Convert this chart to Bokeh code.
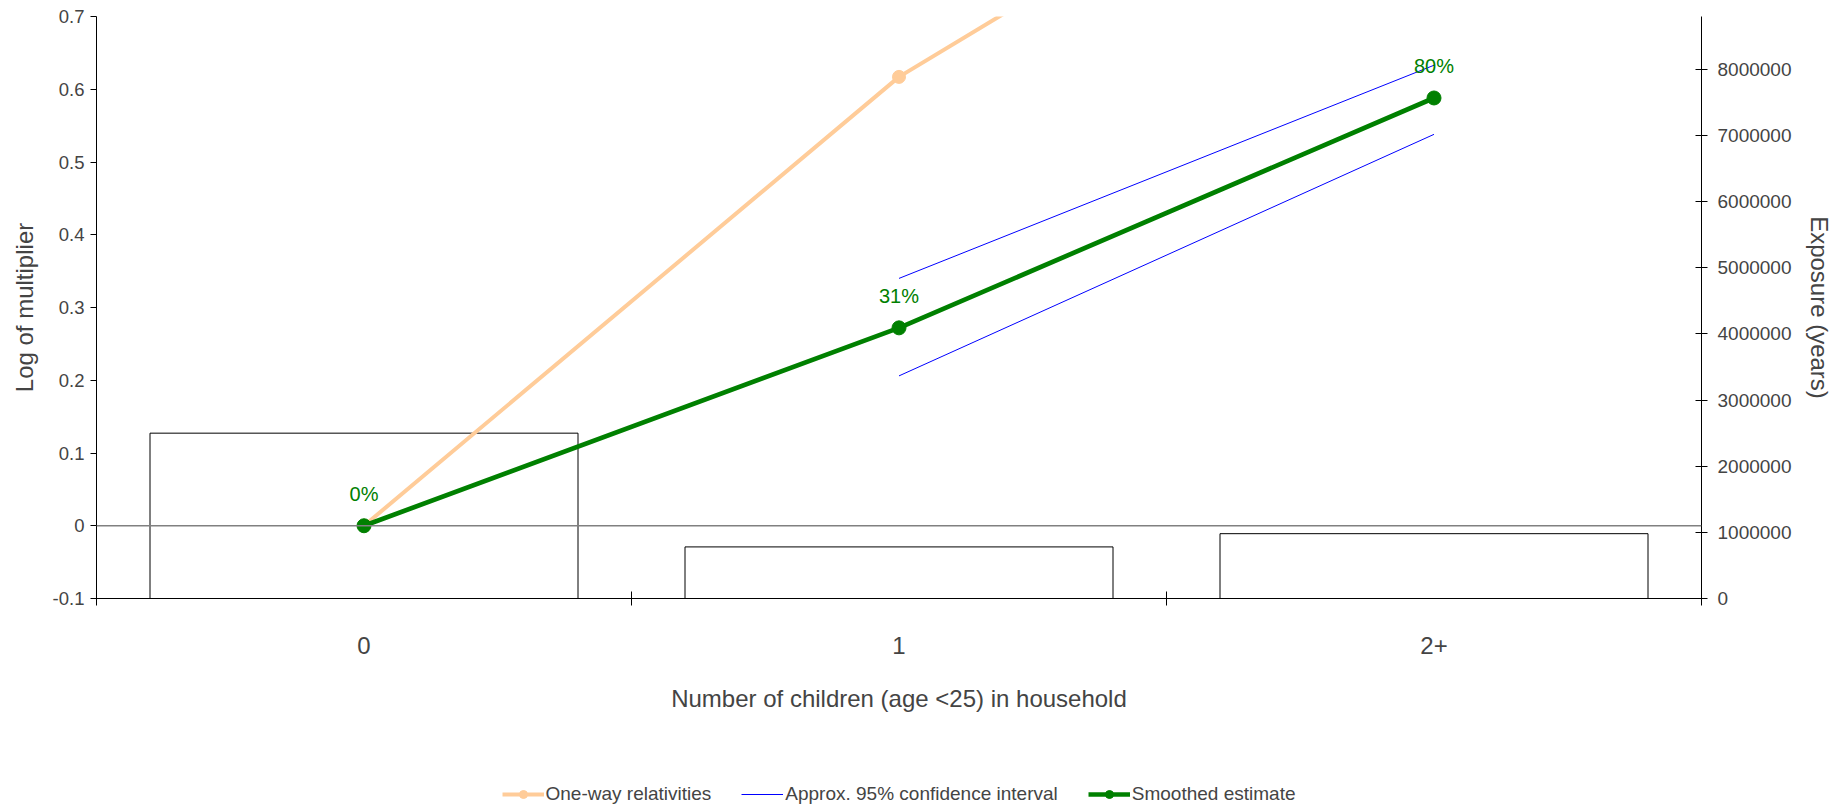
import math
from bokeh.plotting import figure
from bokeh.layouts import column
from bokeh.models import (Range1d, LinearAxis, FixedTicker, CustomJSTickFormatter,
                          Span, Legend, LegendItem, ColumnDataSource)
from bokeh.core.properties import value
from bokeh.embed import file_html
from bokeh.resources import INLINE

# ---- data ----
categories = ["0", "1", "2+"]
exposure = [2500000, 780000, 980000]
one_way = [0.0, 0.617, 1.06]
ci_upper = [None, 0.340, 0.633]
ci_lower = [None, 0.206, 0.538]
smoothed = [0.0, 0.272, 0.588]
smoothed_labels = ["0%", "31%", "80%"]
left_ticks = [-0.1, 0.0, 0.1, 0.2, 0.3, 0.4, 0.5, 0.6, 0.7]
right_ticks = [0, 1000000, 2000000, 3000000, 4000000, 5000000, 6000000, 7000000, 8000000]
legend_labels = ["One-way relativities", "Approx. 95% confidence interval", "Smoothed estimate"]

FONT = "Liberation Sans"
ORANGE, BLUE, GREEN = "#FFCC99", "#0000FF", "#008000"
n = len(categories)
centers = [i + 0.5 for i in range(n)]
bounds = [float(i) for i in range(n + 1)]
nan = float("nan")
up = [nan if v is None else v for v in ci_upper]
lo = [nan if v is None else v for v in ci_lower]

FW, FH = 1605, 582
ML, MR = 96, 135
p = figure(frame_width=FW, frame_height=FH, output_backend="svg", toolbar_location=None,
           x_range=Range1d(0, n), y_range=Range1d(-0.1, 0.7),
           min_border_left=ML, min_border_right=MR, min_border_top=16,
           min_border_bottom=184, x_axis_type=None, y_axis_type=None)
p.outline_line_color = None
p.grid.visible = False
p.background_fill_color = "white"
p.border_fill_color = "white"
p.extra_y_ranges = {"exp": Range1d(0, 8800000)}

# bars (exposure)
p.vbar(x=centers, width=0.8, top=exposure, bottom=0, y_range_name="exp",
       fill_color="white", line_color="black", line_width=1)

zero = Span(location=0, dimension="width", line_color="#808080", line_width=1.5)
p.add_layout(zero)

# one-way relativities
p.line(centers, one_way, line_color=ORANGE, line_width=4)
p.scatter(centers, one_way, size=13, fill_color=ORANGE, line_color=ORANGE)

# confidence interval
p.line(centers, up, line_color=BLUE, line_width=1)
p.line(centers, lo, line_color=BLUE, line_width=1)

# smoothed
p.line(centers, smoothed, line_color=GREEN, line_width=4.7)
p.scatter(centers, smoothed, size=14, fill_color=GREEN, line_color=GREEN)
src = ColumnDataSource(dict(x=centers, y=smoothed, t=smoothed_labels))
p.text(x="x", y="y", text="t", source=src, text_color=GREEN,
       text_font=value(FONT), text_font_size="20px", text_align="center",
       text_baseline="middle", y_offset=-32)

# left axis
ly = LinearAxis(ticker=FixedTicker(ticks=left_ticks),
                formatter=CustomJSTickFormatter(code="return Math.abs(tick) < 1e-9 ? '0' : tick.toFixed(1);"),
                axis_label="Log of multiplier")
ly.major_tick_in = 0
ly.major_tick_out = 6
ly.minor_tick_line_color = None
ly.major_label_standoff = 6
ly.major_label_text_font = FONT
ly.major_label_text_font_size = "18.5px"
ly.axis_label_text_font = FONT
ly.axis_label_text_font_size = "24px"
ly.axis_label_text_font_style = "normal"
ly.axis_label_standoff = 12
p.add_layout(ly, "left")

# right axis
ry = LinearAxis(y_range_name="exp", ticker=FixedTicker(ticks=right_ticks),
                formatter=CustomJSTickFormatter(code="return tick.toFixed(0);"),
                axis_label="Exposure (years)")
ry.major_tick_in = 6
ry.major_tick_out = 6
ry.minor_tick_line_color = None
ry.major_label_standoff = 10
ry.major_label_text_font = FONT
ry.major_label_text_font_size = "19px"
ry.axis_label_text_font = FONT
ry.axis_label_text_font_size = "24px"
ry.axis_label_text_font_style = "normal"
ry.axis_label_standoff = 12
p.add_layout(ry, "right")

# category axis
xa = LinearAxis(ticker=FixedTicker(ticks=centers, minor_ticks=bounds),
                major_label_overrides={c: lab for c, lab in zip(centers, categories)},
                axis_label="Number of children (age <25) in household")
xa.major_tick_line_color = None
xa.major_tick_in = 0
xa.major_tick_out = 7
xa.minor_tick_in = 7
xa.minor_tick_out = 7
xa.minor_tick_line_color = "black"
xa.major_label_standoff = 31
xa.major_label_text_font = FONT
xa.major_label_text_font_size = "24px"
xa.axis_label_text_font = FONT
xa.axis_label_text_font_size = "24px"
xa.axis_label_text_font_style = "normal"
xa.axis_label_standoff = 28
p.add_layout(xa, "below")

# ---- legend strip (separate figure aligned with the plot frame) ----
q = figure(frame_width=FW, frame_height=24, output_backend="svg", toolbar_location=None,
           x_range=Range1d(0, 1), y_range=Range1d(0, 1),
           min_border_left=ML, min_border_right=MR, min_border_top=0, min_border_bottom=0,
           x_axis_type=None, y_axis_type=None)
q.outline_line_color = None
q.grid.visible = False
q.border_fill_color = "white"


def proxy():
    # a single undrawable (NaN) point: the renderer exists only to supply a legend glyph
    return ColumnDataSource(dict(x=[nan], y=[nan]))


lg_ow_l = q.line("x", "y", source=proxy(), line_color=ORANGE, line_width=4)
lg_ow_p = q.scatter("x", "y", source=proxy(), size=13, fill_color=ORANGE, line_color=ORANGE)
lg_ci = q.line("x", "y", source=proxy(), line_color=BLUE, line_width=1)
lg_sm_l = q.line("x", "y", source=proxy(), line_color=GREEN, line_width=4.7)
lg_sm_p = q.scatter("x", "y", source=proxy(), size=13, fill_color=GREEN, line_color=GREEN)

legend = Legend(items=[
    LegendItem(label=legend_labels[0], renderers=[lg_ow_l, lg_ow_p]),
    LegendItem(label=legend_labels[1], renderers=[lg_ci]),
    LegendItem(label=legend_labels[2], renderers=[lg_sm_l, lg_sm_p]),
], orientation="horizontal", location="center")
legend.label_text_font = FONT
legend.label_text_font_size = "19px"
legend.glyph_width = 42
legend.glyph_height = 20
legend.label_standoff = 2
legend.spacing = 30
legend.padding = 0
legend.margin = 0
legend.border_line_color = None
legend.background_fill_alpha = 0
q.add_layout(legend)

layout = column(p, q, spacing=0)
open("out.html", "w").write(file_html(layout, INLINE))
